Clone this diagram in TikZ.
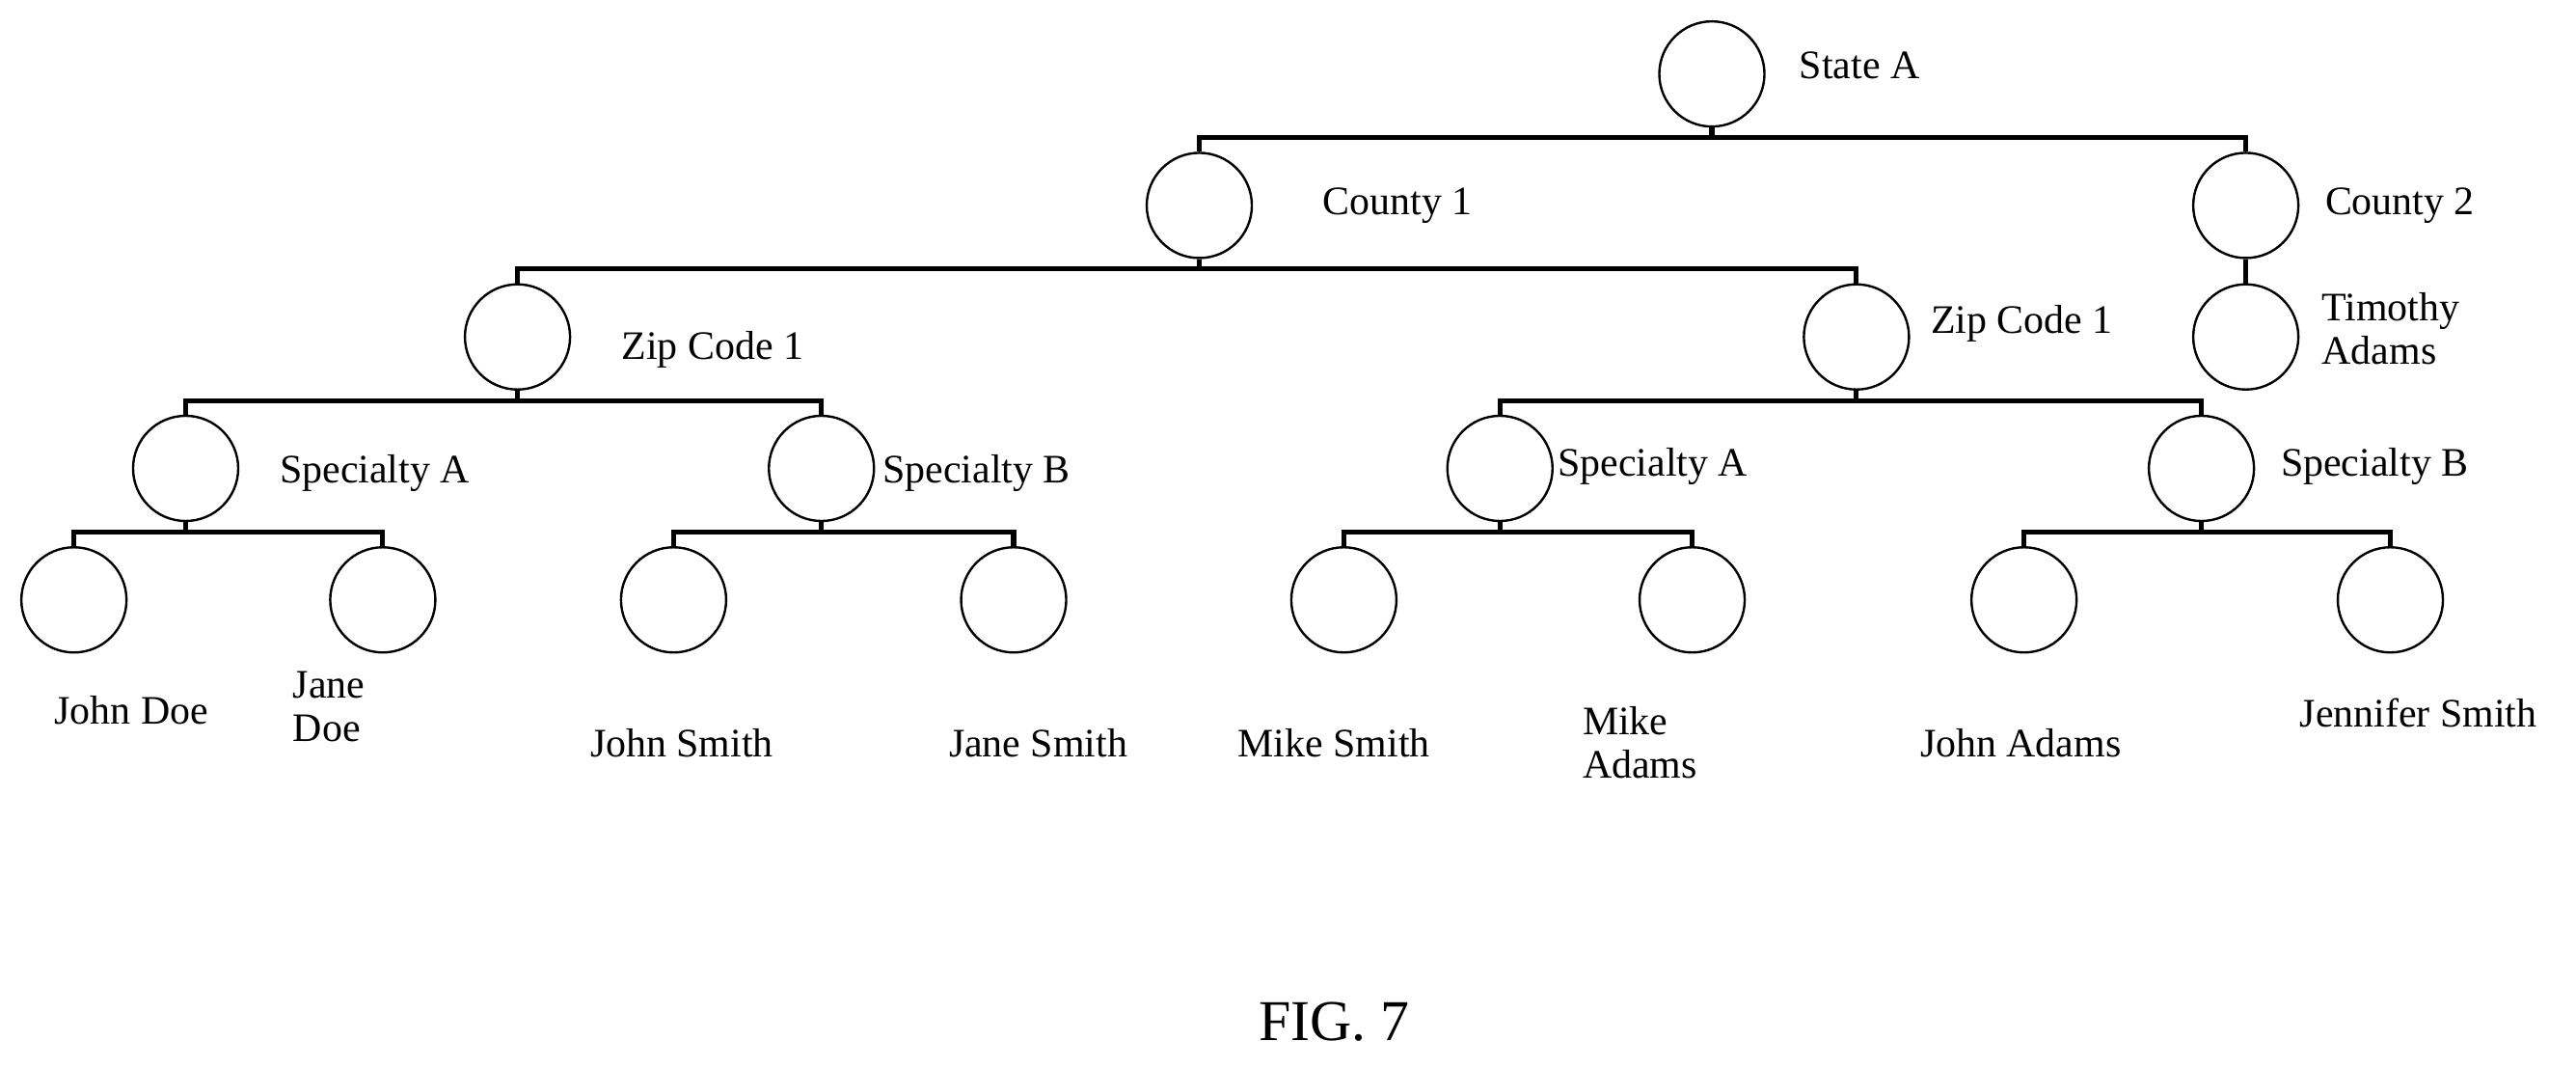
\documentclass[tikz,border=0pt]{standalone}
\usepackage{fontspec}
\setmainfont{Liberation Serif}
\usetikzlibrary{positioning}
\tikzset{
	place/.style={
		circle,
		thick,
		draw=black,
		minimum size=12.8mm,
		inner sep=0pt,
	},
	tag/.style={
		font=\fontsize{14}{15}\selectfont,
		inner sep=0pt,
		align=left,
	},
	link/.style={
		line width=0.6mm,
	},
}
\begin{document}
\begin{tikzpicture}[x=0.2mm,y=-0.2mm]
    \useasboundingbox (0,0) rectangle (1568,650);

    \node [place] (st) at (1042,45) {};
    \node [tag,anchor=west] (lst) at (1095,40) {State A};

    \node [place] (c1) at (730,125) {};
    \node [tag,anchor=west] (lc1) at (805,125) {County 1};
    \node [place] (c2) at (1367,125) {};
    \node [tag,anchor=west] (lc2) at (1415,125) {County 2};
    \node [place] (ta) at (1367,205) {};
    \node [tag,anchor=west] (lta) at (1413,200) {Timothy\\Adams};

    \node [place] (z1) at (315,205) {};
    \node [tag,anchor=west] (lz1) at (378,213) {Zip Code 1};
    \node [place] (z2) at (1130,205) {};
    \node [tag,anchor=west] (lz2) at (1175,197) {Zip Code 1};

    \node [place] (sa1) at (113,285) {};
    \node [tag,anchor=west] (lsa1) at (170,288) {Specialty A};
    \node [place] (sb1) at (500,285) {};
    \node [tag,anchor=west] (lsb1) at (537,288) {Specialty B};
    \node [place] (sa2) at (913,285) {};
    \node [tag,anchor=west] (lsa2) at (948,284) {Specialty A};
    \node [place] (sb2) at (1340,285) {};
    \node [tag,anchor=west] (lsb2) at (1388,284) {Specialty B};

    \node [place] (jd) at (45,365) {};
    \node [tag] (ljd) at (80,432) {John Doe};
    \node [place] (jnd) at (233,365) {};
    \node [tag,anchor=west] (ljnd) at (178,430) {Jane\\Doe};
    \node [place] (js) at (410,365) {};
    \node [tag] (ljs) at (415,452) {John Smith};
    \node [place] (jns) at (617,365) {};
    \node [tag] (ljns) at (632,452) {Jane Smith};
    \node [place] (ms) at (818,365) {};
    \node [tag] (lms) at (812,452) {Mike Smith};
    \node [place] (ma) at (1030,365) {};
    \node [tag,anchor=west] (lma) at (963,452) {Mike\\Adams};
    \node [place] (ja) at (1232,365) {};
    \node [tag] (lja) at (1230,452) {John Adams};
    \node [place] (jfs) at (1455,365) {};
    \node [tag] (ljfs) at (1472,434) {Jennifer Smith};

    \node [font=\fontsize{20}{22}\selectfont] (fig) at (812,622) {FIG. 7};

    % tree links
    \foreach \p/\c in {st/c1,st/c2,c1/z1,c1/z2,z1/sa1,z1/sb1,z2/sa2,z2/sb2,
        sa1/jd,sa1/jnd,sb1/js,sb1/jns,sa2/ms,sa2/ma,sb2/ja,sb2/jfs}
      \draw[link] (\p.south) -- ++(0,6) -| (\c.north);
    \draw[link] (c2) -- (ta);
\end{tikzpicture}
\end{document}
